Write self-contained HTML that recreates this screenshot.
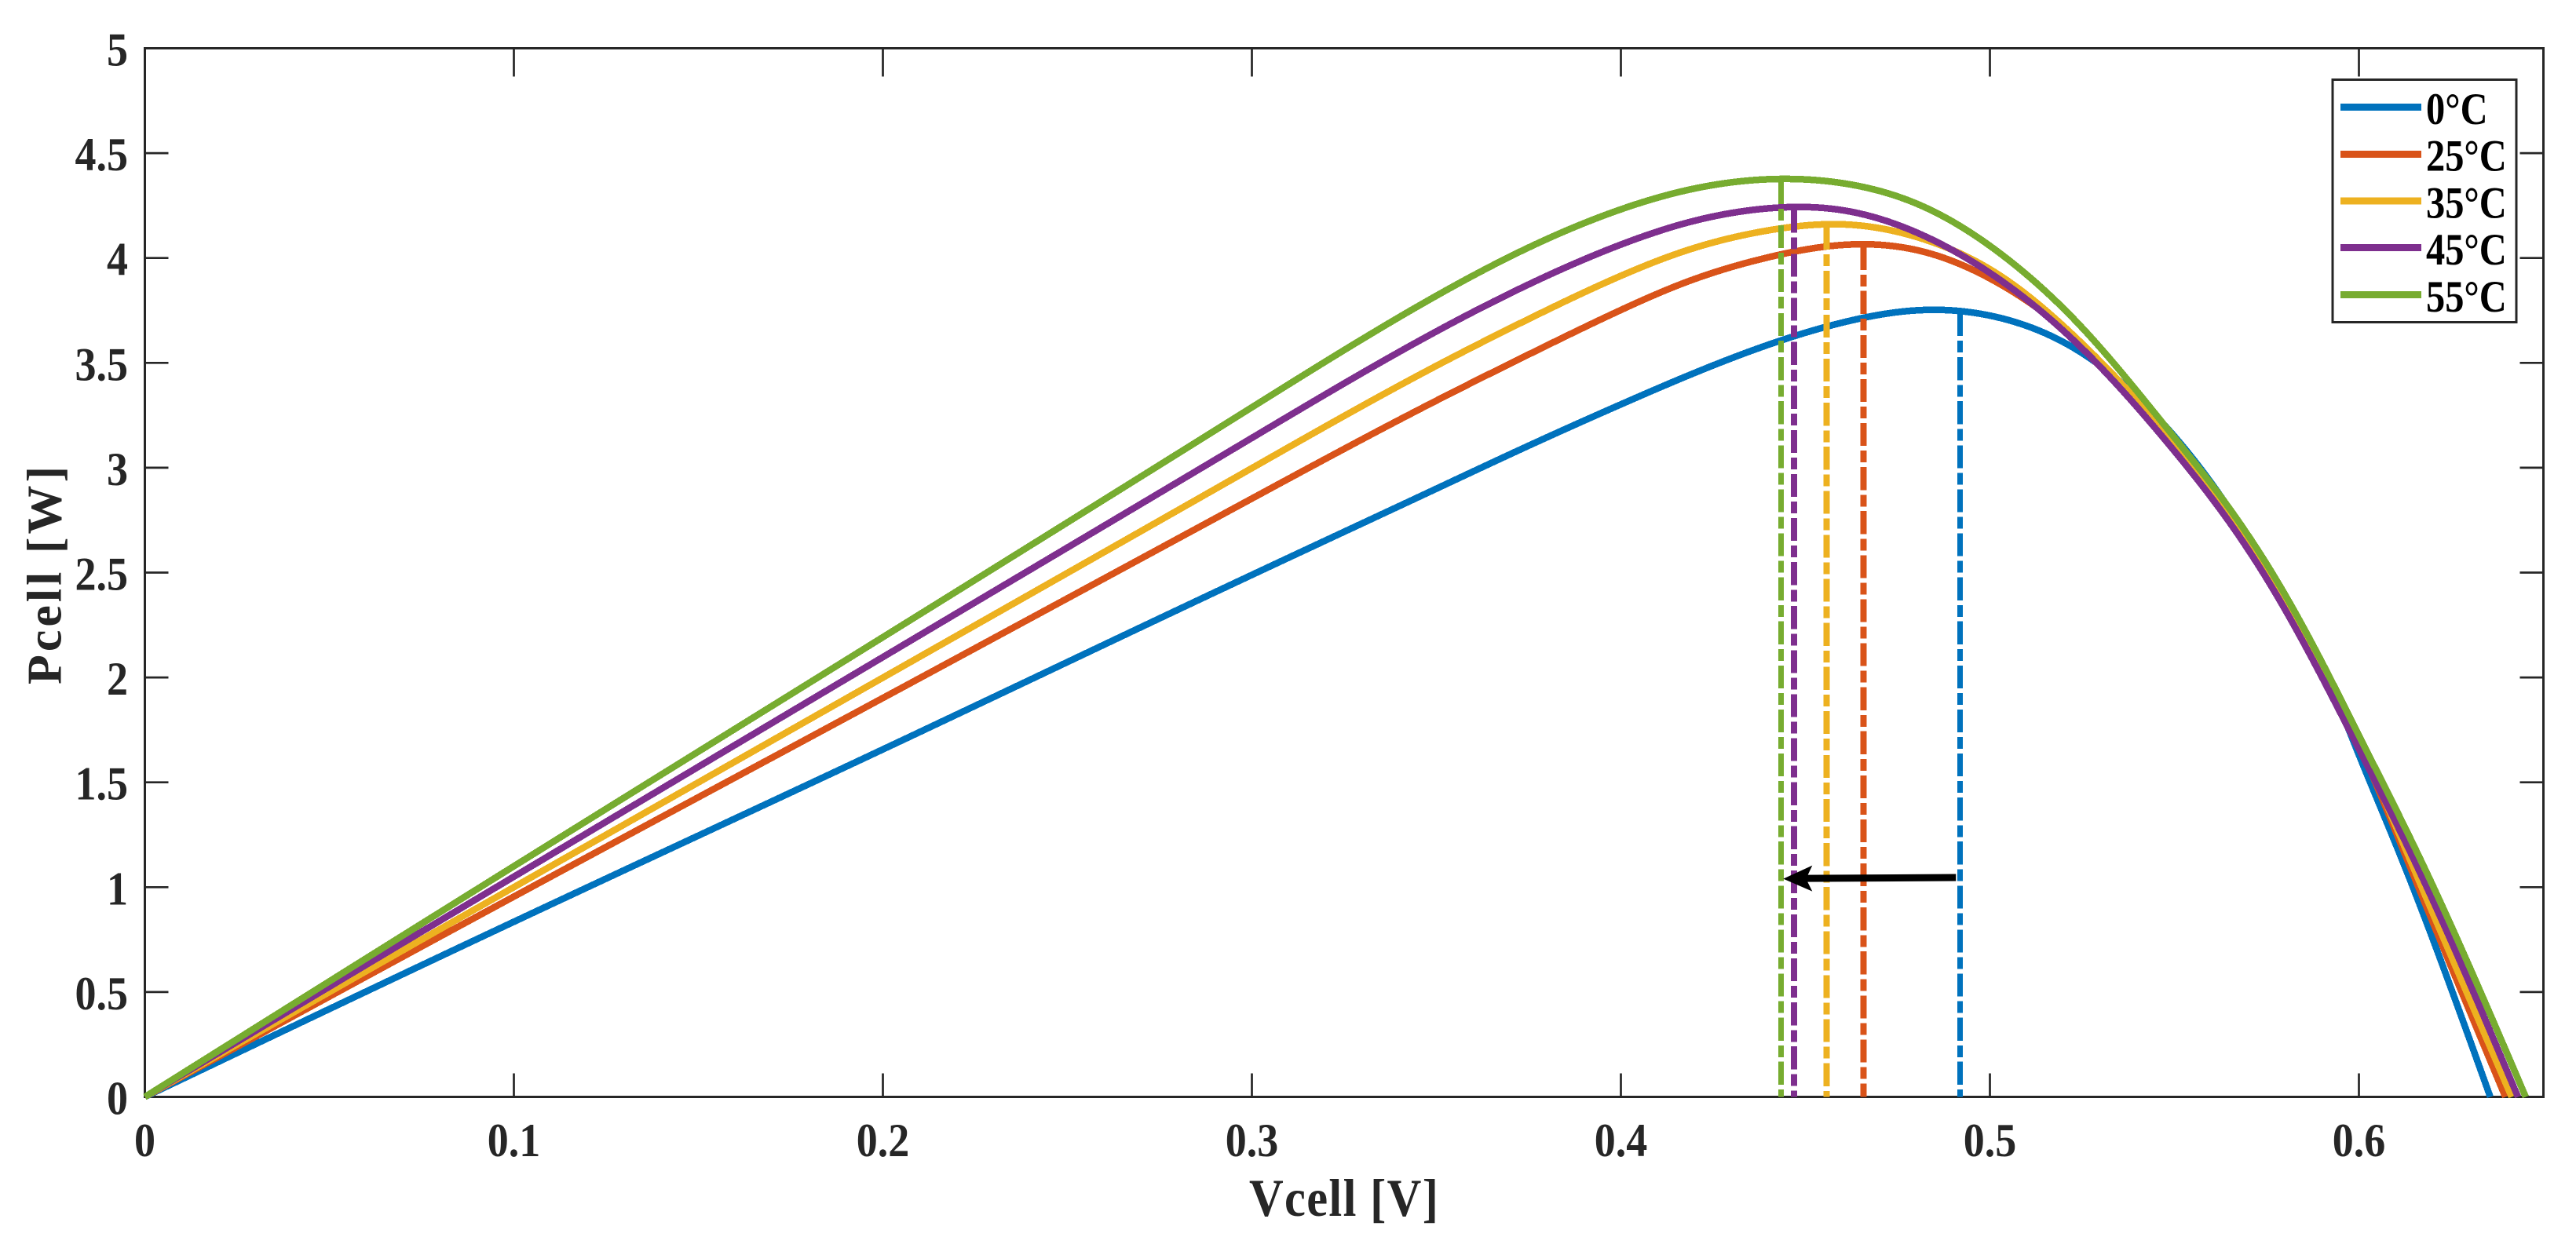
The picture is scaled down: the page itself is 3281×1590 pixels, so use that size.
<!DOCTYPE html>
<html lang="en">
<head>
<meta charset="utf-8">
<title>Pcell vs Vcell</title>
<style>
html,body{margin:0;padding:0;background:#fff;}
svg{display:block;}
text{font-family:"Liberation Serif",serif;font-weight:bold;}
</style>
</head>
<body>
<svg id="chart" xmlns="http://www.w3.org/2000/svg" width="3281" height="1590" viewBox="0 0 3281 1590">
<rect x="0" y="0" width="3281" height="1590" fill="#fff"/>
</svg>
<script>
const xTickValues = [0, 0.1, 0.2, 0.3, 0.4, 0.5, 0.6];
const xTickLabels = ["0", "0.1", "0.2", "0.3", "0.4", "0.5", "0.6"];
const yTickValues = [0, 0.5, 1, 1.5, 2, 2.5, 3, 3.5, 4, 4.5, 5];
const yTickLabels = ["0", "0.5", "1", "1.5", "2", "2.5", "3", "3.5", "4", "4.5", "5"];
const seriesNames = ["0°C", "25°C", "35°C", "45°C", "55°C"];

const voltage0C  = [0, 0.1, 0.2, 0.3, 0.35, 0.375, 0.4, 0.4183, 0.4394, 0.4607, 0.482, 0.5033, 0.5245, 0.5495, 0.5635, 0.5778, 0.5921, 0.5991, 0.6121, 0.6356];
const power0C    = [0, 0.835, 1.657, 2.489, 2.90, 3.105, 3.302, 3.44, 3.583, 3.695, 3.752, 3.712, 3.552, 3.16, 2.84, 2.44, 1.97, 1.67, 1.113, 0];
const voltage25C = [0, 0.1, 0.2, 0.3, 0.35, 0.375, 0.4, 0.4183, 0.4394, 0.4607, 0.482, 0.5033, 0.5245, 0.5495, 0.5635, 0.5778, 0.5921, 0.5991, 0.6135, 0.6397];
const power25C   = [0, 0.955, 1.902, 2.853, 3.32, 3.54, 3.752, 3.889, 4.001, 4.063, 4.03, 3.87, 3.596, 3.12, 2.80, 2.415, 1.955, 1.71, 1.113, 0];
const voltage35C = [0, 0.1, 0.2, 0.3, 0.35, 0.375, 0.4, 0.4183, 0.4394, 0.4607, 0.482, 0.5033, 0.5245, 0.5495, 0.5635, 0.5778, 0.5921, 0.5991, 0.6143, 0.6414];
const power35C   = [0, 1.0, 1.999, 2.998, 3.486, 3.709, 3.915, 4.039, 4.13, 4.16, 4.09, 3.91, 3.6, 3.125, 2.805, 2.425, 1.965, 1.72, 1.113, 0];
const voltage45C = [0, 0.1, 0.2, 0.3, 0.35, 0.375, 0.4, 0.4183, 0.4394, 0.4607, 0.482, 0.5033, 0.5245, 0.5495, 0.5635, 0.5778, 0.5921, 0.5991, 0.6154, 0.6431];
const power45C   = [0, 1.05, 2.097, 3.142, 3.65, 3.874, 4.064, 4.17, 4.236, 4.226, 4.107, 3.889, 3.577, 3.09, 2.775, 2.39, 1.93, 1.69, 1.113, 0];
const voltage55C = [0, 0.1, 0.2, 0.3, 0.35, 0.375, 0.4, 0.4183, 0.4394, 0.4607, 0.482, 0.5033, 0.5245, 0.5495, 0.5635, 0.5778, 0.5921, 0.5991, 0.6172, 0.6452];
const power55C   = [0, 1.10, 2.192, 3.288, 3.82, 4.05, 4.232, 4.325, 4.375, 4.355, 4.245, 4.015, 3.677, 3.155, 2.84, 2.46, 2.0, 1.755, 1.113, 0];

const mppVoltage = [0.4919, 0.4657, 0.4557, 0.4469, 0.4434];
const mppPower = [3.748, 4.064, 4.161, 4.241, 4.378];
const arrowVoltage = [0.4908, 0.444];
const arrowPower = [1.046, 1.04];

const voltages = [voltage0C, voltage25C, voltage35C, voltage45C, voltage55C];
const powers = [power0C, power25C, power35C, power45C, power55C];
const seriesColors = ["#0072bd", "#d95319", "#edb120", "#7e2f8e", "#77ac30"];
const dashWidths = [7, 8, 8, 8, 7];
const seriesKeys = ["0c", "25c", "35c", "45c", "55c"];

const AX = {left: 184.5, right: 3239.5, top: 61.5, bottom: 1397.5, xMax: 0.65, yMax: 5};
const INK = "#262626";
function xScale(v) { return AX.left + v / AX.xMax * (AX.right - AX.left); }
function yScale(p) { return AX.bottom - p / AX.yMax * (AX.bottom - AX.top); }

const svg = document.getElementById("chart");
const NS = "http://www.w3.org/2000/svg";
function make(tag, attrs, parent) {
  const el = document.createElementNS(NS, tag);
  for (const k in attrs) el.setAttribute(k, attrs[k]);
  (parent || svg).appendChild(el);
  return el;
}
function line(x1, y1, x2, y2, w, color, parent) {
  return make("line", {x1: x1, y1: y1, x2: x2, y2: y2, stroke: color, "stroke-width": w}, parent);
}
function label(str, x, y, size, sx, anchor, fill, parent, extra) {
  const t = make("text", Object.assign({
    transform: "translate(" + x + "," + y + ") scale(" + sx + ",1)",
    "font-size": size, "text-anchor": anchor, fill: fill
  }, extra || {}), parent);
  t.textContent = str;
  return t;
}
/* natural cubic spline through the read values, sampled to a polyline */
function curvePath(vs, ps) {
  const n = vs.length;
  const h = [], alpha = new Array(n).fill(0), l = new Array(n).fill(1), mu = new Array(n).fill(0), z = new Array(n).fill(0), c = new Array(n).fill(0);
  for (let i = 0; i < n - 1; i++) h.push(vs[i + 1] - vs[i]);
  for (let i = 1; i < n - 1; i++) {
    alpha[i] = 3 * ((ps[i + 1] - ps[i]) / h[i] - (ps[i] - ps[i - 1]) / h[i - 1]);
    l[i] = 2 * (vs[i + 1] - vs[i - 1]) - h[i - 1] * mu[i - 1];
    mu[i] = h[i] / l[i];
    z[i] = (alpha[i] - h[i - 1] * z[i - 1]) / l[i];
  }
  for (let j = n - 2; j >= 0; j--) c[j] = z[j] - mu[j] * c[j + 1];
  const pts = [];
  for (let i = 0; i < n - 1; i++) {
    const b = (ps[i + 1] - ps[i]) / h[i] - h[i] * (c[i + 1] + 2 * c[i]) / 3;
    const d = (c[i + 1] - c[i]) / (3 * h[i]);
    const steps = Math.max(4, Math.ceil(h[i] / 0.002));
    for (let s = 0; s < steps; s++) {
      const t = h[i] * s / steps;
      const p = ps[i] + b * t + c[i] * t * t + d * t * t * t;
      pts.push(xScale(vs[i] + t).toFixed(2) + " " + yScale(p).toFixed(2));
    }
  }
  pts.push(xScale(vs[n - 1]).toFixed(2) + " " + yScale(ps[n - 1]).toFixed(2));
  return "M" + pts.join("L");
}

/* axes box */
const box = make("rect", {x: AX.left, y: AX.top, width: AX.right - AX.left, height: AX.bottom - AX.top, fill: "none", stroke: INK, "stroke-width": 3});



/* x ticks */
xTickValues.forEach(function (v, i) {
  const x = xScale(v);
  const g = make("g", {});
  
  
  line(x, AX.bottom, x, AX.bottom - 30, 2.7, INK, g);
  line(x, AX.top, x, AX.top + 36, 2.7, INK, g);
  label(xTickLabels[i], x, 1473, 60, 0.9, "middle", INK, g);
});

/* y ticks */
yTickValues.forEach(function (p, i) {
  const y = yScale(p);
  const g = make("g", {});
  
  
  line(AX.left, y, AX.left + 30, y, 2.7, INK, g);
  line(AX.right, y, AX.right - 30, y, 2.7, INK, g);
  label(yTickLabels[i], 163, y + 22, 60, 0.9, "end", INK, g);
});

/* axis titles */
const xTitle = label("Vcell [V]", 1591, 1549, 68, 0.89, "start", INK, svg, {"letter-spacing": 1.5});


const yTitle = make("text", {transform: "translate(77.3,872) rotate(-90)", "font-size": 62, "letter-spacing": 4, fill: INK});
yTitle.textContent = "Pcell [W]";



/* power curves */
seriesColors.forEach(function (c, i) {
  const path = make("path", {d: curvePath(voltages[i], powers[i]), fill: "none", stroke: c, "stroke-width": 8.5, "stroke-linejoin": "round", "shape-rendering": "crispEdges"});
  
  
});

/* maximum power point drop lines */
seriesColors.forEach(function (c, i) {
  const x = xScale(mppVoltage[i]);
  const l = make("line", {x1: x, y1: yScale(mppPower[i]), x2: x, y2: AX.bottom, stroke: c, "stroke-width": dashWidths[i], "stroke-dasharray": "29.2 6 15 5.9", "stroke-dashoffset": -3, "shape-rendering": "crispEdges"});
  
  
});

/* shift arrow */
const arrowGroup = make("g", {});


const tipX = xScale(arrowVoltage[1]), tipY = yScale(arrowPower[1]);
line(xScale(arrowVoltage[0]), yScale(arrowPower[0]), tipX + 25, tipY - 0.5, 9, "#000", arrowGroup);
make("polygon", {points: [[tipX, tipY], [tipX + 37, tipY - 17], [tipX + 29, tipY], [tipX + 37, tipY + 16]].join(" "), fill: "#000"}, arrowGroup);

/* legend */
const legend = make("g", {});


make("rect", {x: 2971, y: 101.5, width: 234, height: 309, fill: "#fff", stroke: INK, "stroke-width": 3}, legend);
const legendLineY = [136.5, 196.5, 256, 315.5, 375.5];
const legendTextY = [158, 217.5, 277.5, 337, 397];
seriesNames.forEach(function (name, i) {
  const g = make("g", {}, legend);
  
  
  line(2981, legendLineY[i], 3084, legendLineY[i], 9, seriesColors[i], g);
  label(name, 3090, legendTextY[i], 57, 0.85, "start", "#000", g);
});
</script>
</body>
</html>
